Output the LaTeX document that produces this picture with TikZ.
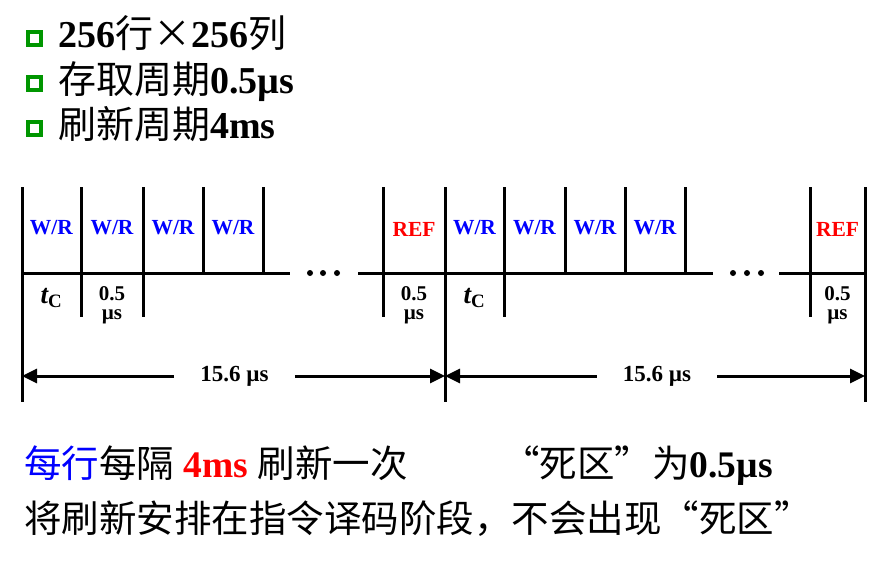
\documentclass[tikz,border=0pt]{standalone}
\usepackage{fontspec}
\setmainfont{Liberation Serif}
\newfontfamily\cjk{Noto Sans CJK SC}
\usepackage{xcolor}
\usetikzlibrary{positioning,arrows.meta}
\definecolor{bulletgreen}{RGB}{0,150,0}
\newcommand{\zh}[1]{{\cjk #1}}

\begin{document}
\begin{tikzpicture}[x=1pt,y=-1pt,
    tickline/.style={line width=3pt},
    wrlab/.style={font=\bfseries\fontsize{21.5}{21.5}\selectfont,text=blue,inner sep=0pt},
    reflab/.style={font=\bfseries\fontsize{21.5}{21.5}\selectfont,text=red,inner sep=0pt},
    durlab/.style={font=\bfseries\fontsize{21}{21}\selectfont,anchor=base,inner sep=0pt},
    tclab/.style={font=\bfseries\itshape\fontsize{27}{27}\selectfont,inner sep=0pt},
    spanlab/.style={font=\bfseries\fontsize{23}{23}\selectfont,inner xsep=26pt,inner ysep=0pt},
    itemtxt/.style={font=\fontsize{38}{38}\selectfont,anchor=base west,inner sep=0pt},
    linetxt/.style={font=\fontsize{37.5}{37.5}\selectfont,anchor=base west,inner sep=0pt},
    bulletbox/.style={draw=bulletgreen,fill=white,line width=4pt,minimum size=13pt,inner sep=0pt},
    dimarrow/.style={line width=3pt,-{Triangle[length=15pt,width=14pt]}},
    gapdot/.style={circle,fill,inner sep=0pt,minimum size=6pt}]
  \useasboundingbox (0,0) rectangle (884,560);

  \foreach \i/\y in {1/38,2/83,3/128}
    \node[bulletbox] (b\i) at (34.5,\y) {};
  \node[itemtxt] (t1) at (58,47) {\textbf{256}\zh{行×}\textbf{256}\zh{列}};
  \node[itemtxt] (t2) at (58,93) {\zh{存取周期}\textbf{0.5µs}};
  \node[itemtxt] (t3) at (58,138) {\zh{刷新周期}\textbf{4ms}};

  \foreach \n/\x in {a/22,b/445,c/865} {
    \coordinate (\n0) at (\x,187);
    \coordinate (\n1) at (\x,402);
    \draw[tickline] (\n0) -- (\n1);
  }
  \foreach \n/\x in {s1/81,s2/143,s3/383,s4/504,s5/810} {
    \coordinate (\n0) at (\x,187);
    \coordinate (\n1) at (\x,317);
    \draw[tickline] (\n0) -- (\n1);
  }
  \foreach \n/\x in {m1/203,m2/263,m3/565,m4/625,m5/685} {
    \coordinate (\n0) at (\x,187);
    \coordinate (\n1) at (\x,273);
    \draw[tickline] (\n0) -- (\n1);
  }

  \coordinate (h1) at (22,273);
  \coordinate (h2) at (290,273);
  \coordinate (h3) at (358,273);
  \coordinate (h4) at (713,273);
  \coordinate (h5) at (779,273);
  \coordinate (h6) at (865,273);
  \draw[tickline] (h1) -- (h2);
  \draw[tickline] (h3) -- (h4);
  \draw[tickline] (h5) -- (h6);

  \foreach \x [count=\k] in {310,323,337,733,747,761}
    \node[gapdot] (d\k) at (\x,273) {};

  \foreach \x [count=\k] in {51.5,112,173,233,474.5,534.5,595,655}
    \node[wrlab] (w\k) at (\x,228) {W/R};
  \node[reflab] (r1) at (414,229) {REF};
  \node[reflab] (r2) at (837.5,229) {REF};

  \node[tclab] (c1) at (51.5,298) {t\textsubscript{\upshape C}};
  \node[tclab] (c2) at (474.5,298) {t\textsubscript{\upshape C}};
  \foreach \x [count=\k] in {112,414,837.5} {
    \node[durlab] (u\k) at (\x,300) {0.5};
    \node[durlab] (v\k) at (\x,319) {µs};
  }

  \coordinate (e1) at (22,376);
  \coordinate (e2) at (445,376);
  \coordinate (e3) at (865,376);
  \node[spanlab] (p1) at (234.5,376) {15.6 µs};
  \node[spanlab] (p2) at (657,376) {15.6 µs};
  \draw[dimarrow] (p1.west) -- (e1);
  \draw[dimarrow] (p1.east) -- (e2);
  \draw[dimarrow] (p2.west) -- (e2);
  \draw[dimarrow] (p2.east) -- (e3);

  \node[linetxt] (n1) at (24,477) {\zh{\textcolor{blue}{每行}每隔} \textcolor{red}{\textbf{4ms}} \zh{刷新一次}};
  \node[linetxt] (n2) at (502,477) {\zh{“死区”为}\textbf{0.5µs}};
  \node[linetxt] (n3) at (24,532) {\zh{将刷新安排在指令译码阶段，不会出现“死区”}};
\end{tikzpicture}
\end{document}
